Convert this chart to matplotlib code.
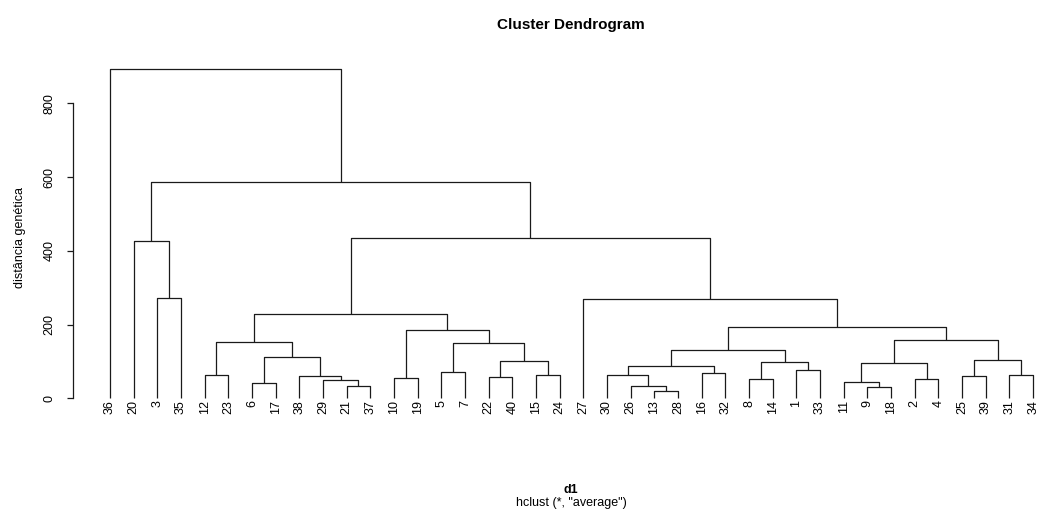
import numpy as np
import matplotlib.pyplot as plt

plt.rcParams["font.family"] = ["Liberation Sans", "DejaVu Sans"]

# hclust merge table, R style: negative = observation id, positive = earlier merge step
merge_left = [-13, -9, -26, -21, -6, -11, -29, -8, -2, -10,
              -22, -38, -25, -15, -12, -30, -31, -16, -5, -1,
              16, 6, 8, 11, 13, 5, 21, 19, 15, 22,
              10, 27, 29, -27, -3, -20, 33, 36, -36]
merge_right = [-28, -18, 1, -37, -17, 2, 4, -14, -4, -19,
               -40, 7, -39, -24, -23, 3, -34, -32, -7, -33,
               18, 9, 20, 14, 17, 12, 23, 24, 26, 25,
               28, 30, 31, 32, -35, 35, 34, 37, 38]
merge_height = [19, 32, 32.5, 34, 42, 43, 49.5, 51.5, 52.5, 54,
                58.5, 60.4, 61, 62, 63, 63.5, 64, 70, 72, 75.6,
                89, 96.4, 98, 102, 104.5, 113, 132, 150, 154, 157,
                184, 193, 230, 270, 272, 426, 434, 586.5, 892]

yticks = [0, 200, 400, 600, 800]


def leaf_order(step):
    '''
    Returns observation ids under a merge step, left to right
    '''
    out = []
    for child in (merge_left[step - 1], merge_right[step - 1]):
        if child < 0:
            out.append(-child)
        else:
            out.extend(leaf_order(child))
    return out


n_steps = len(merge_height)
order = leaf_order(n_steps)
leaf_x = {obs: i + 1 for i, obs in enumerate(order)}

fig = plt.figure(figsize=(10.38, 5.12), dpi=100)
ax = fig.add_axes([73 / 1038, (512 - 411.5) / 512, 997 / 1038, 355.3 / 512])

node_x = {}
line_kw = dict(color="#1a1a1a", lw=0.9, solid_capstyle="butt")
for step in range(1, n_steps + 1):
    h = merge_height[step - 1]
    pts = []
    for child in (merge_left[step - 1], merge_right[step - 1]):
        if child < 0:
            pts.append((leaf_x[-child], 0.0))
        else:
            pts.append((node_x[child], merge_height[child - 1]))
    (xa, ya), (xb, yb) = pts
    ax.plot([xa, xa, xb, xb], [ya, h, h, yb], **line_kw)
    node_x[step] = (xa + xb) / 2.0

n = len(order)
ax.set_xlim(1 - 0.04 * (n - 1), n + 0.04 * (n - 1))
ax.set_ylim(-35.7, 927.7)

for obs in order:
    ax.text(leaf_x[obs], -4.5, str(obs), rotation=90, ha="center", va="top",
            fontsize=9)

for side in ["top", "right", "bottom"]:
    ax.spines[side].set_visible(False)
ax.spines["left"].set_bounds(0, 800)
ax.spines["left"].set_color("#1a1a1a")
ax.spines["left"].set_linewidth(0.9)
ax.set_xticks([])
ax.set_yticks(yticks)
ax.set_yticklabels([str(v) for v in yticks], rotation=90, va="center")
ax.tick_params(axis="y", length=4.3, width=0.9, pad=8.5, labelsize=9, color="#1a1a1a")

ax.set_ylabel("distância genética", fontsize=9)
ax.yaxis.set_label_coords(-0.047, 0.49)

fig.text(571 / 1038, 1 - 25 / 512, "Cluster Dendrogram", ha="center", va="center",
         fontsize=11, fontweight="bold")
fig.text(571 / 1038, 1 - 490 / 512, "d1", ha="center", va="center",
         fontsize=9, fontweight="bold")
fig.text(571 / 1038, 1 - 503 / 512, 'hclust (*, "average")', ha="center", va="center",
         fontsize=9)

fig.savefig("out.png", dpi=100)
